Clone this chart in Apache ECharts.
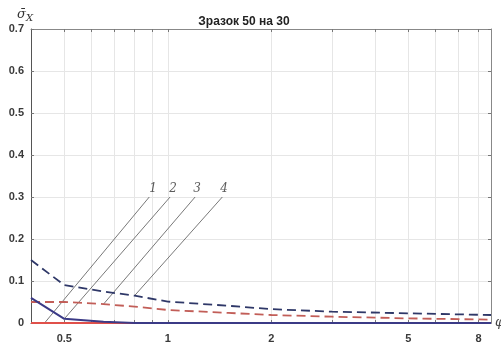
<!DOCTYPE html>
<html><head><meta charset="utf-8">
<script src="https://cdn.jsdelivr.net/npm/echarts@6/dist/echarts.min.js"></script>
<style>html,body{margin:0;padding:0;background:#fff}#c{width:501px;height:347px}</style>
</head><body><div id="c"></div>
<script>
const phi = [0.4, 0.5, 0.65, 0.8, 1, 1.5, 2, 3, 5, 8.7];
const curve1 = [0, 0, 0, 0, 0, 0, 0, 0, 0, 0];
const curve2 = [0.06, 0.01, 0.003, 0, 0, 0, 0, 0, 0, 0];
const curve3 = [0.05, 0.05, 0.045, 0.039, 0.031, 0.024, 0.019, 0.015, 0.011, 0.008];
const curve4 = [0.15, 0.09, 0.075, 0.065, 0.051, 0.041, 0.033, 0.027, 0.023, 0.019];
const xLabels = [0.5, 1, 2, 5, 8];
const xTicks = [0.5, 0.6, 0.7, 0.8, 0.9, 1, 2, 3, 4, 5, 6, 7, 8];
const yTicks = [0, 0.1, 0.2, 0.3, 0.4, 0.5, 0.6, 0.7];
const leaderNames = ['1', '2', '3', '4'];
const leaderTop = [[0.883, 0.3], [1.015, 0.3], [1.2, 0.3], [1.44, 0.3]];
const leaderBottom = [[0.438, 0], [0.5, 0.01], [0.65, 0.045], [0.8, 0.065]];
const leaderLabelPos = [[0.906, 0.32], [1.036, 0.32], [1.216, 0.32], [1.456, 0.32]];

const pairs = ys => phi.map((x, i) => [x, ys[i]]);
const chart = echarts.init(document.getElementById('c'));
const axisFont = {fontFamily: 'Liberation Sans', fontWeight: 'bold', fontSize: 11, color: '#3a3a3a'};
const xCommon = {
  type: 'log', logBase: 10, min: 0.4, max: 8.7,
  axisLine: {show: true, onZero: false, lineStyle: {color: '#555', width: 1}},
  axisTick: {show: true, inside: true, length: 3, customValues: xTicks, lineStyle: {color: '#777'}},
  minorTick: {show: false},
  splitLine: {show: true, lineStyle: {color: '#e6e6e6', width: 1}},
};
const yCommon = {
  type: 'value', min: 0, max: 0.7, interval: 0.1,
  axisLine: {show: true, lineStyle: {color: '#555', width: 1}},
  axisTick: {show: true, inside: true, length: 3, lineStyle: {color: '#777'}},
  splitLine: {show: true, lineStyle: {color: '#e6e6e6', width: 1}},
};
chart.setOption({
  animation: false,
  backgroundColor: '#fff',
  title: {
    text: 'Зразок 50 на 30', left: 239, top: 11, textAlign: 'center',
    textStyle: {fontFamily: 'Liberation Sans', fontWeight: 'bold', fontSize: 12, color: '#222'}
  },
  grid: {left: 31, right: 10, top: 29, bottom: 24, containLabel: false, outerBoundsMode: 'none'},
  xAxis: [
    Object.assign({}, xCommon, {
      position: 'bottom',
      name: 'φ', nameLocation: 'end', nameGap: 4,
      nameTextStyle: {fontFamily: 'DejaVu Serif', fontStyle: 'italic', fontSize: 13, color: '#444', verticalAlign: 'middle', padding: [14, 0, 0, 0]},
      axisLabel: Object.assign({show: true, margin: 10, customValues: xLabels, formatter: v => String(v)}, axisFont)
    }),
    Object.assign({}, xCommon, {
      position: 'top', axisLabel: {show: false}, splitLine: {show: false},
      axisLine: {show: true, onZero: false, lineStyle: {color: '#888', width: 1}}
    })
  ],
  yAxis: [
    Object.assign({}, yCommon, {
      position: 'left',
      name: '{s|σ\u0304}{x|X}', nameLocation: 'end', nameGap: 6,
      nameTextStyle: {
        align: 'center', padding: [0, 0, 0, -12],
        rich: {
          s: {fontFamily: 'DejaVu Serif', fontStyle: 'italic', fontSize: 13, color: '#333'},
          x: {fontFamily: 'DejaVu Serif', fontStyle: 'italic', fontSize: 10, color: '#333', verticalAlign: 'bottom', padding: [6, 0, 0, 0]}
        }
      },
      axisLabel: Object.assign({show: true, margin: 7, formatter: v => (v === 0 ? '0' : v.toFixed(1))}, axisFont)
    }),
    Object.assign({}, yCommon, {
      position: 'right', axisLabel: {show: false}, splitLine: {show: false},
      axisLine: {show: true, lineStyle: {color: '#888', width: 1}}
    })
  ],
  series: [
    {type: 'line', name: '1', data: pairs(curve1), symbol: 'none', z: 3,
     lineStyle: {color: '#e0504a', width: 2}},
    {type: 'line', name: '2', data: pairs(curve2), symbol: 'none', z: 4,
     lineStyle: {color: '#3b3a86', width: 2}},
    {type: 'line', name: '3', data: pairs(curve3), symbol: 'none', z: 3,
     lineStyle: {color: '#c25e58', width: 1.8, type: [9, 5]}},
    {type: 'line', name: '4', data: pairs(curve4), symbol: 'none', z: 3,
     lineStyle: {color: '#2f3868', width: 1.8, type: [9, 5]}},
    {type: 'lines', coordinateSystem: 'cartesian2d', z: 2,
     data: leaderNames.map((n, i) => ({coords: [leaderBottom[i], leaderTop[i]]})),
     lineStyle: {color: '#555', width: 0.8, opacity: 1}},
    {type: 'scatter', symbolSize: 0, z: 5,
     data: leaderNames.map((n, i) => ({value: leaderLabelPos[i], name: n})),
     label: {show: true, position: 'inside', formatter: p => p.name,
       fontFamily: 'DejaVu Serif', fontStyle: 'italic', fontSize: 12, color: '#333'}}
  ]
});
</script></body></html>
